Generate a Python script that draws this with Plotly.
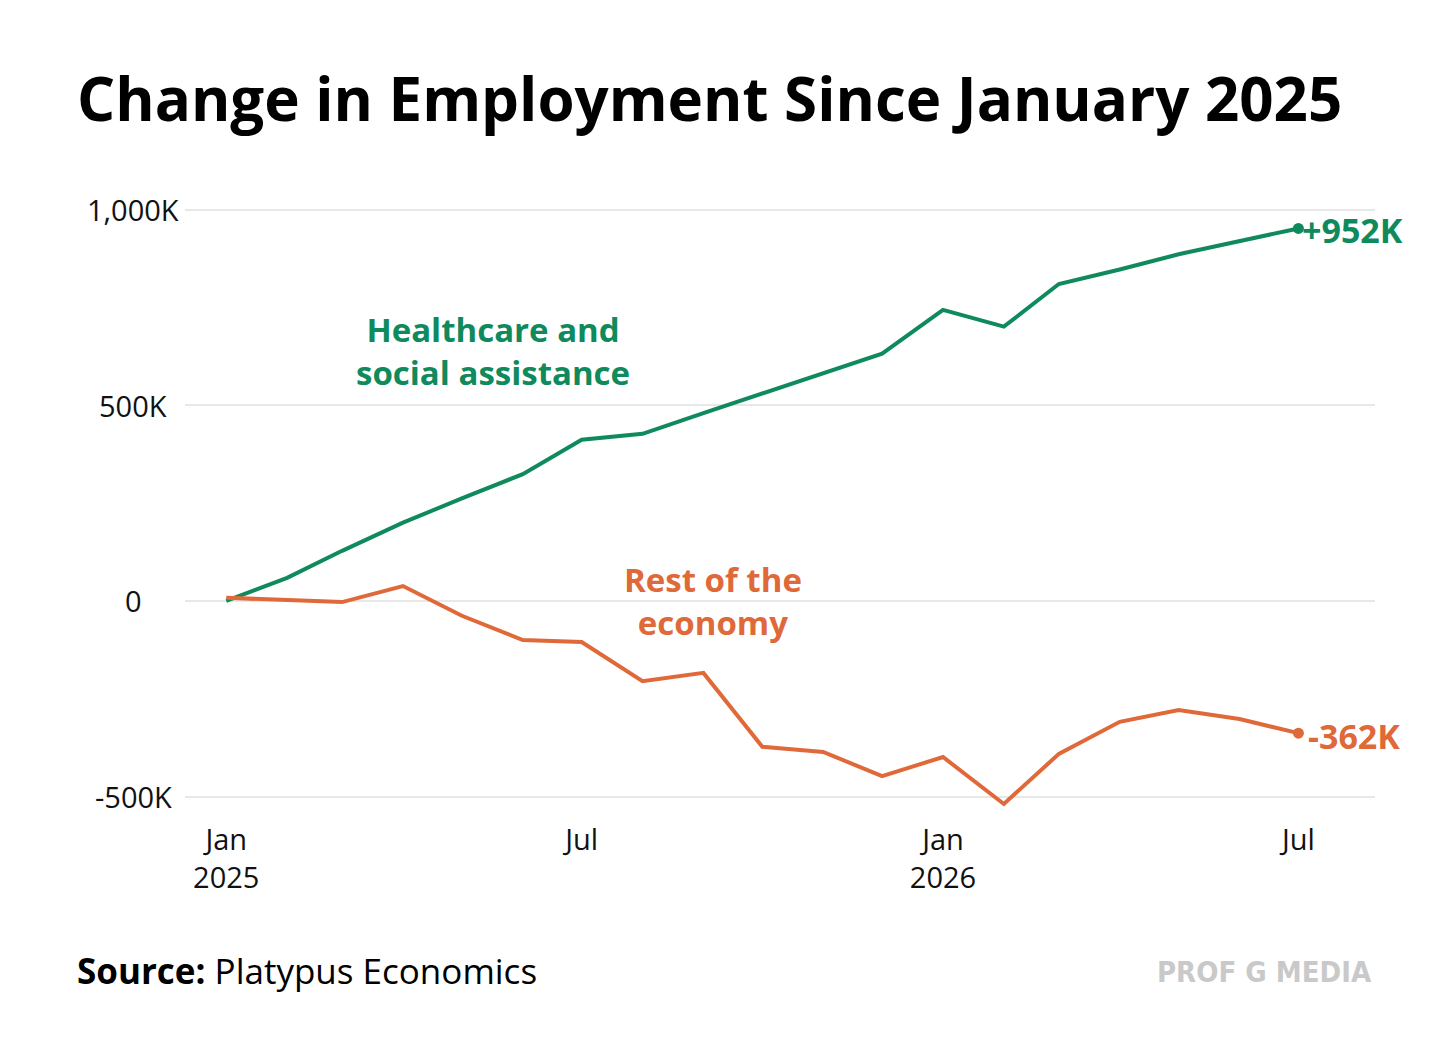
import plotly.graph_objects as go

# Monthly change in employment since Jan 2025 (thousands)
months = ["2025-01-01", "2025-02-01", "2025-03-01", "2025-04-01", "2025-05-01",
          "2025-06-01", "2025-07-01", "2025-08-01", "2025-09-01", "2025-10-01",
          "2025-11-01", "2025-12-01", "2026-01-01", "2026-02-01", "2026-03-01",
          "2026-04-01", "2026-05-01", "2026-06-01", "2026-07-01"]
healthcare = [0, 59, 128, 200, 262, 324, 412, 427, 480, 531, 581, 632,
              744, 701, 810, 847, 886, 920, 952]
rest_of_economy = [8, 3, -3, 38, -38, -100, -105, -205, -184, -373, -386, -448,
                   -399, -519, -391, -309, -279, -302, -338]

y_ticks = [1000, 500, 0, -500]
y_tick_text = ["1,000K", "500K", "0", "-500K"]
x_ticks = ["2025-01-01", "2025-07-01", "2026-01-01", "2026-07-01"]
x_tick_text = ["Jan<br>2025", "Jul", "Jan<br>2026", "Jul"]

GREEN = "#0E8A5C"
ORANGE = "#E0693A"
FONT = "Open Sans"

W, H = 1456, 1064
OFF = 8  # page body margin
L, R, T, B = 177, 89, 186, 252


def px(x):
    # page pixel -> paper x
    return (x - OFF - L) / (W - L - R)


def py(y):
    # page pixel -> paper y
    return (H - B - (y - OFF)) / (H - T - B)


fig = go.Figure()

fig.add_trace(go.Scatter(x=months, y=healthcare, mode="lines",
                         line=dict(color=GREEN, width=4), showlegend=False,
                         hoverinfo="skip"))
fig.add_trace(go.Scatter(x=months, y=rest_of_economy, mode="lines",
                         line=dict(color=ORANGE, width=4), showlegend=False,
                         hoverinfo="skip"))

# end dots
fig.add_trace(go.Scatter(x=[months[-1]], y=[healthcare[-1]], mode="markers",
                         marker=dict(color=GREEN, size=11), showlegend=False))
fig.add_trace(go.Scatter(x=[months[-1]], y=[rest_of_economy[-1]], mode="markers",
                         marker=dict(color=ORANGE, size=11), showlegend=False))

# end labels
fig.add_annotation(x=months[-1], y=healthcare[-1], text="<b>+952K</b>", showarrow=False,
                   xanchor="left", yanchor="middle", xshift=2, yshift=-2,
                   font=dict(family=FONT, size=34, color=GREEN))
fig.add_annotation(x=months[-1], y=rest_of_economy[-1], text="<b>-362K</b>", showarrow=False,
                   xanchor="left", yanchor="middle", xshift=8, yshift=-3,
                   font=dict(family=FONT, size=34, color=ORANGE))

# series labels
fig.add_annotation(xref="paper", yref="paper", x=px(493), y=py(351),
                   text="<b>Healthcare and<br>social assistance</b>", showarrow=False,
                   xanchor="center", yanchor="middle", align="center",
                   font=dict(family=FONT, size=33, color=GREEN))
fig.add_annotation(xref="paper", yref="paper", x=px(713), y=py(601),
                   text="<b>Rest of the<br>economy</b>", showarrow=False,
                   xanchor="center", yanchor="middle", align="center",
                   font=dict(family=FONT, size=33, color=ORANGE))

# y tick labels, centred like the original
for v, t in zip(y_ticks, y_tick_text):
    fig.add_annotation(xref="paper", yref="y", x=px(133), y=v, text=t, showarrow=False,
                       xanchor="center", yanchor="middle",
                       font=dict(family=FONT, size=29, color="#111111"))

# title
fig.add_annotation(xref="paper", yref="paper", x=px(75), y=py(98),
                   text="<b>Change in Employment Since January 2025</b>", showarrow=False,
                   xanchor="left", yanchor="middle",
                   font=dict(family=FONT, size=60, color="#000000"))

# footer
fig.add_annotation(xref="paper", yref="paper", x=px(75), y=py(970),
                   text="<b>Source:</b> Platypus Economics", showarrow=False,
                   xanchor="left", yanchor="middle",
                   font=dict(family=FONT, size=35, color="#000000"))
fig.add_annotation(xref="paper", yref="paper", x=px(1374), y=py(972),
                   text="<b>PROF G MEDIA</b>", showarrow=False,
                   xanchor="right", yanchor="middle",
                   font=dict(family="DejaVu Sans Condensed, DejaVu Sans", size=29,
                             color="#C9C9C9"))

fig.update_xaxes(type="date", range=["2024-12-11", "2026-08-09"],
                 tickvals=x_ticks, ticktext=x_tick_text,
                 tickfont=dict(family=FONT, size=29, color="#111111"),
                 showgrid=False, zeroline=False, showline=False, ticks="")
fig.update_yaxes(range=[-560, 1040], tickvals=y_ticks, showticklabels=False,
                 showgrid=True, gridcolor="#E8E8E8", gridwidth=2,
                 zeroline=False, showline=False, ticks="")

fig.update_layout(
    width=W, height=H,
    margin=dict(l=L, r=R, t=T, b=B),
    plot_bgcolor="white", paper_bgcolor="white",
    font=dict(family=FONT),
)

fig.write_html("out.html")
